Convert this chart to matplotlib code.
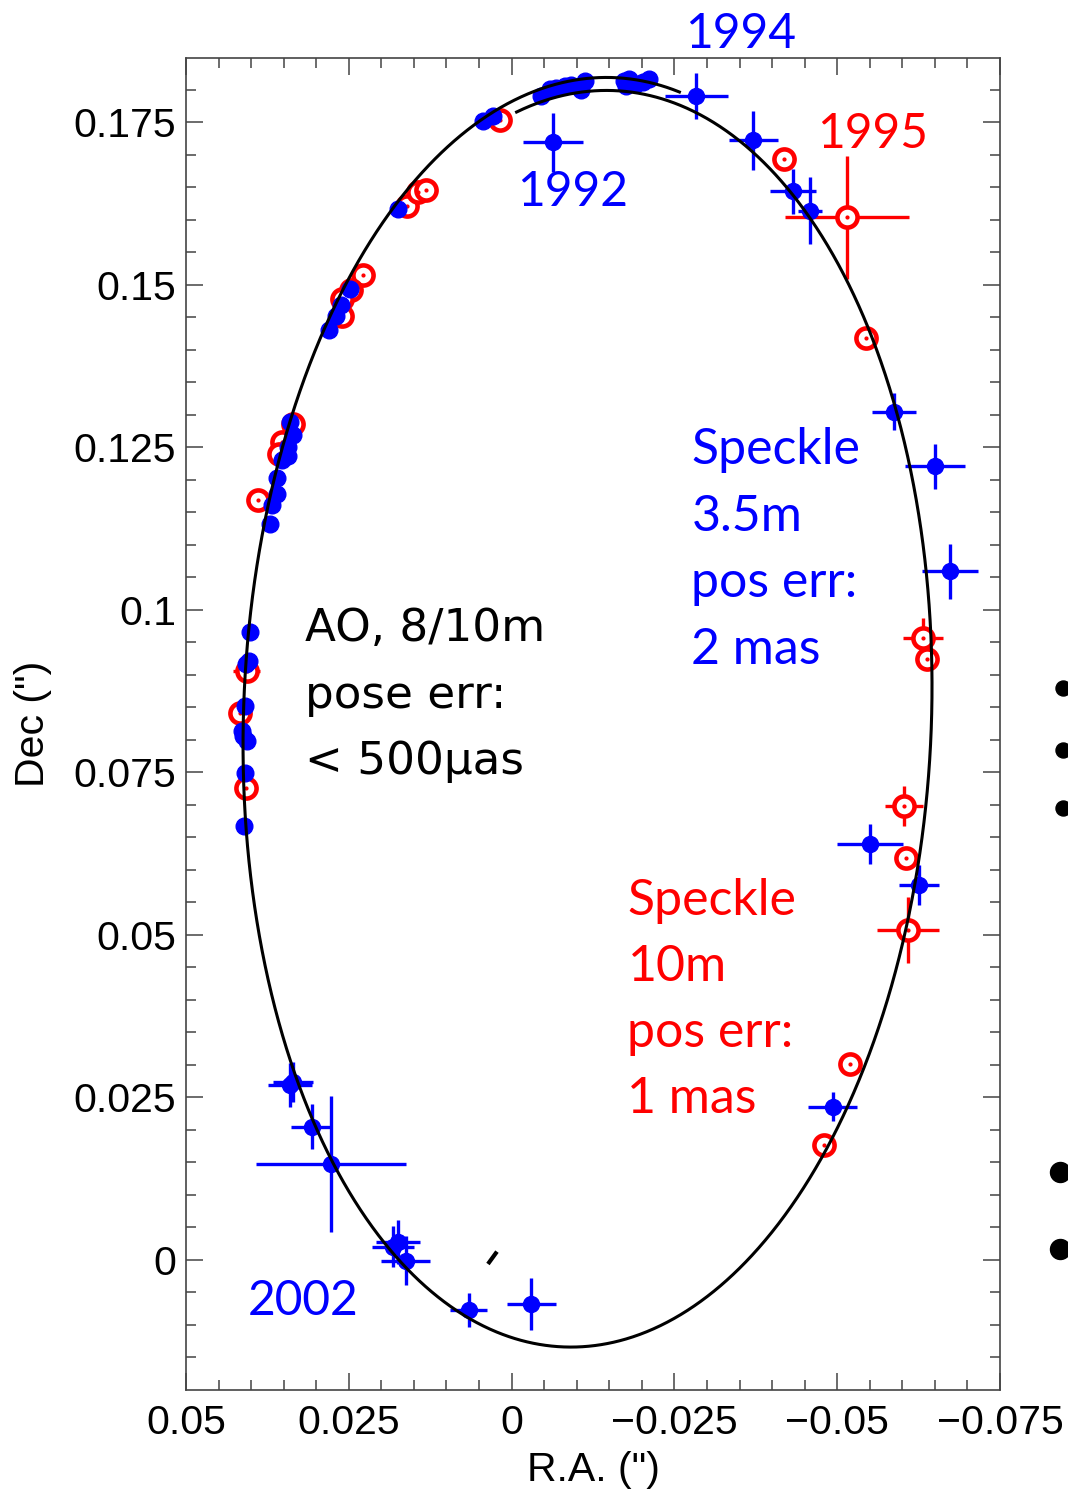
import numpy as np
import matplotlib
matplotlib.use("Agg")
import matplotlib.pyplot as plt
from matplotlib.lines import Line2D

# ---------------- data ----------------
# Speckle 3.5 m (blue, with error bars)
spk35_ra = [-0.00629, -0.02837, -0.03712, -0.04325, -0.04581, -0.05874, -0.06508,
            -0.06733, -0.05506, -0.06258, -0.04928, -0.00302, 0.00660, 0.01626,
            0.01744, 0.01821, 0.02776, 0.03072, 0.03405, 0.03359]
spk35_dec = [0.17189, 0.17897, 0.17220, 0.16435, 0.16138, 0.13046, 0.12203,
             0.10589, 0.06392, 0.05769, 0.02358, -0.00677, -0.00769, -0.00010,
             0.00282, 0.00205, 0.01477, 0.02051, 0.02692, 0.02738]
spk35_xerr = [0.0046, 0.0048, 0.0038, 0.0035, 0.0019, 0.0034, 0.0046,
              0.0043, 0.0051, 0.0031, 0.0038, 0.0038, 0.0028, 0.0038,
              0.0034, 0.0032, 0.0115, 0.0032, 0.0034, 0.0031]
spk35_yerr = [0.0045, 0.0035, 0.0045, 0.0035, 0.0052, 0.0028, 0.0035,
              0.0042, 0.0031, 0.0031, 0.0022, 0.0040, 0.0026, 0.0038,
              0.0034, 0.0032, 0.0105, 0.0034, 0.0034, 0.0031]

# AO 8/10 m (blue, no visible error bars)
ao_ra = [0.00445, 0.00291, -0.00456, -0.00583, -0.00686, -0.00813, -0.00916,
         -0.01069, -0.01120, -0.01733, -0.01759, -0.01810, -0.01913, -0.02014,
         -0.02117, 0.01744, 0.02485, 0.02627, 0.02699, 0.02802, 0.03405,
         0.03354, 0.03431, 0.03431, 0.03532, 0.03600, 0.03609, 0.03686,
         0.03712, 0.04018, 0.04080, 0.04034, 0.04095, 0.04146, 0.04069,
         0.04118, 0.04095, 0.04106]
ao_dec = [0.17512, 0.17589, 0.17897, 0.18011, 0.18026, 0.18062, 0.18077,
          0.18000, 0.18128, 0.18128, 0.18051, 0.18165, 0.18092, 0.18112,
          0.18165, 0.16165, 0.14934, 0.14692, 0.14512, 0.14297, 0.12883,
          0.12694, 0.12506, 0.12371, 0.12300, 0.12031, 0.11778, 0.11617,
          0.11320, 0.09660, 0.09165, 0.09205, 0.08518, 0.08140, 0.07978,
          0.08062, 0.07494, 0.06675]

# Speckle 10 m (red), without visible error bars
spk10_ra = [0.00184, 0.01600, 0.01437, 0.01308, 0.02281, 0.02459, 0.02612,
            0.02597, 0.03354, 0.03532, 0.03569, 0.03891, 0.04172, 0.04084,
            -0.04187, -0.05449, -0.06385, -0.06054, -0.05195, -0.04801]
spk10_dec = [0.17538, 0.16215, 0.16420, 0.16462, 0.15143, 0.14923, 0.14780,
             0.14512, 0.12855, 0.12586, 0.12397, 0.11686, 0.08411, 0.07257,
             0.16938, 0.14175, 0.09242, 0.06188, 0.03011, 0.01769]
# Speckle 10 m (red) with error bars
spk10e_ra = [0.04069, -0.05149, -0.06319, -0.06028, -0.06089]
spk10e_dec = [0.09051, 0.16035, 0.09565, 0.06985, 0.05071]
spk10e_xerr = [0.0021, 0.0095, 0.0031, 0.0029, 0.0048]
spk10e_yerr = [0.0010, 0.0095, 0.0031, 0.0031, 0.0051]

# orbit model (slowly drifting ellipse)
orb_cx, orb_A = -0.01166, 0.0529
orb_cy, orb_C, orb_D = 0.08373, -0.005, 0.0970
orb_drift, orb_tmid = 0.000318, 4.76
orb_t0, orb_t1 = 1.3634, 1.8407 + 2 * np.pi
seg_ra = [0.00363, 0.00225]
seg_dec = [-0.00062, 0.00128]

xticks = [0.05, 0.025, 0.0, -0.025, -0.05, -0.075]
xticklabels = ["0.05", "0.025", "0", "\u22120.025", "\u22120.05", "\u22120.075"]
yticks = [0.0, 0.025, 0.05, 0.075, 0.1, 0.125, 0.15, 0.175]
yticklabels = ["0", "0.025", "0.05", "0.075", "0.1", "0.125", "0.15", "0.175"]

BLUE = "#0000FF"
RED = "#FF0000"

# ---------------- figure ----------------
W, H = 1068, 1495
fig = plt.figure(figsize=(W / 100, H / 100), dpi=100)
ax = fig.add_axes([186 / W, 1 - 1390 / H, 814 / W, 1332 / H])
ax.set_xlim(0.05, -0.075)
ax.set_ylim(-0.02, 0.18485)

# red speckle 10m
ax.errorbar(spk10e_ra, spk10e_dec, xerr=spk10e_xerr, yerr=spk10e_yerr, fmt="o",
            ms=14.5, mfc="white", mec=RED, mew=3.3, ecolor=RED, elinewidth=2.4,
            capsize=0, zorder=2)
ax.plot(spk10_ra, spk10_dec, "o", ms=14.5, mfc="white", mec=RED, mew=3.3,
        ls="none", zorder=2)
ax.plot(spk10_ra + spk10e_ra, spk10_dec + spk10e_dec, "o", ms=2.0, color=RED,
        ls="none", zorder=2.1)

# blue
ax.errorbar(spk35_ra, spk35_dec, xerr=spk35_xerr, yerr=spk35_yerr, fmt="o",
            ms=11.5, color=BLUE, mec=BLUE, ecolor=BLUE, elinewidth=2.4,
            capsize=0, zorder=3)
ax.plot(ao_ra, ao_dec, "o", ms=12.0, color=BLUE, ls="none", zorder=3)

# orbit
t = np.linspace(orb_t0, orb_t1, 3000)
o_ra = orb_cx + orb_A * np.cos(t)
o_dec = orb_cy + orb_drift * (t - orb_tmid) + orb_C * np.cos(t) + orb_D * np.sin(t)
ax.plot(o_ra, o_dec, color="black", lw=2.2, zorder=4)
ax.plot(seg_ra, seg_dec, color="black", lw=3.0, zorder=4, solid_capstyle="butt")

# ticks
ax.set_xticks(xticks)
ax.set_xticklabels(xticklabels)
ax.set_yticks(yticks)
ax.set_yticklabels(yticklabels)
ax.set_xticks(np.arange(-0.075, 0.0501, 0.005), minor=True)
ax.set_yticks(np.arange(-0.015, 0.1801, 0.005), minor=True)
ax.tick_params(which="both", direction="in", top=True, right=True,
               color="#444444", width=1.1)
ax.tick_params(which="major", length=12)
ax.tick_params(which="minor", length=7)
ax.tick_params(axis="x", pad=10)
ax.tick_params(axis="y", pad=7)
tickfam = ["Liberation Sans", "DejaVu Sans"]
for lab in ax.get_xticklabels() + ax.get_yticklabels():
    lab.set_fontfamily(tickfam)
    lab.set_fontsize(29.5)
for sp in ax.spines.values():
    sp.set_color("#444444")
    sp.set_linewidth(1.2)

ax.set_xlabel('R.A. (")', fontsize=29.5, family=tickfam, va="center")
ax.set_ylabel('Dec (")', fontsize=29.5, family=tickfam, va="center")
ax.xaxis.set_label_coords((593 - 186) / 814, (1390 - 1470) / 1332)
ax.yaxis.set_label_coords((33 - 186) / 814, 0.5)

# annotations
cfont = ["Lato", "DejaVu Sans"]
ax.text(-0.02669, 0.18646, "1994", color=BLUE, fontsize=34.5, family=cfont,
        ha="left", va="baseline", clip_on=False)
ax.text(-0.04693, 0.17108, "1995", color=RED, fontsize=34.5, family=cfont,
        ha="left", va="baseline")
ax.text(-0.00077, 0.16208, "1992", color=BLUE, fontsize=34.5, family=cfont,
        ha="left", va="baseline")
ax.text(0.04049, -0.00846, "2002", color=BLUE, fontsize=34.5, family=cfont,
        ha="left", va="baseline")

blue_lines = ["Speckle", "3.5m", "pos err:", "2 mas"]
blue_base = [0.12246, 0.11215, 0.10200, 0.09169]
for s, y in zip(blue_lines, blue_base):
    ax.text(-0.02761, y, s, color=BLUE, fontsize=36, family=cfont,
            ha="left", va="baseline")
red_lines = ["Speckle", "10m", "pos err:", "1 mas"]
red_base = [0.05308, 0.04292, 0.03277, 0.02262]
for s, y in zip(red_lines, red_base):
    ax.text(-0.01779, y, s, color=RED, fontsize=36, family=cfont,
            ha="left", va="baseline")
black_lines = ["AO, 8/10m", "pose err:", "< 500\u00b5as"]
black_base = [0.09515, 0.08492, 0.07469]
for s, y in zip(black_lines, black_base):
    ax.text(0.03175, y, s, color="black", fontsize=32.6, family="DejaVu Sans",
            ha="left", va="baseline")

# clipped bullets at the right edge of the slide
bullet_y = [688, 750, 808, 1172, 1249]
bullet_d = [15, 15, 15, 20, 20]
bullet_x = [1063, 1063, 1063, 1060, 1060]
for bx, by, bd in zip(bullet_x, bullet_y, bullet_d):
    fig.add_artist(Line2D([bx / W], [1 - by / H], marker="o", ms=bd * 0.72,
                          color="black", ls="none", transform=fig.transFigure))

fig.savefig("out.png", dpi=100)
